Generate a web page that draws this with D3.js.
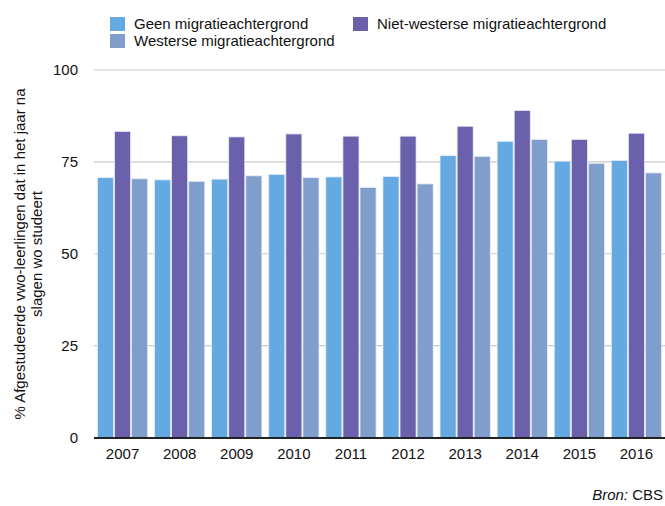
<!DOCTYPE html>
<html>
<head>
<meta charset="utf-8">
<script src="https://cdn.jsdelivr.net/npm/d3@7"></script>
<style>
  body { margin: 0; background: #fff; }
  text { font-family: "Helvetica Neue", Helvetica, Arial, "Liberation Sans", sans-serif; fill: #111; }
</style>
</head>
<body>
<div id="chart"></div>
<script>
var w = 665;
var h = 506;

var years = ["2007", "2008", "2009", "2010", "2011", "2012", "2013", "2014", "2015", "2016"];
var seriesNames = ["Geen migratieachtergrond", "Niet-westerse migratieachtergrond", "Westerse migratieachtergrond"];
var geen = [70.7, 70.1, 70.3, 71.6, 70.9, 71.0, 76.7, 80.6, 75.2, 75.4];
var nietWesters = [83.3, 82.1, 81.8, 82.6, 82.0, 82.0, 84.7, 89.0, 81.1, 82.8];
var westers = [70.4, 69.7, 71.2, 70.7, 68.0, 69.0, 76.5, 81.1, 74.6, 72.0];
var yTicks = [0, 25, 50, 75, 100];
var colors = ["#65a9e3", "#6a60ab", "#7f9ecb"];

var values = [geen, nietWesters, westers];

var svg = d3.select("#chart")
    .append("svg")
    .attr("width", w)
    .attr("height", h);

var x0 = d3.scaleBand()
    .domain(years)
    .range([94, 665])
    .paddingInner(0.12)
    .paddingOuter(0.06);

var x1 = d3.scaleBand()
    .domain(d3.range(3))
    .range([0, x0.bandwidth()])
    .paddingInner(0.06);

var y = d3.scaleLinear()
    .domain([0, 100])
    .range([437.5, 70]);

// gridlines
svg.append("g")
    .selectAll("line")
    .data(yTicks.filter(function(d) { return d > 0; }))
    .enter()
    .append("line")
    .attr("x1", 94)
    .attr("x2", 665)
    .attr("y1", function(d) { return y(d); })
    .attr("y2", function(d) { return y(d); })
    .attr("stroke", "#c8c8c8")
    .attr("stroke-width", 1.2);

// y tick labels
svg.append("g")
    .selectAll("text")
    .data(yTicks)
    .enter()
    .append("text")
    .attr("x", 78)
    .attr("y", function(d) { return y(d); })
    .attr("dy", "0.35em")
    .attr("text-anchor", "end")
    .style("font-size", "15px")
    .text(function(d) { return d; });

// bars
var groups = svg.append("g")
    .selectAll("g")
    .data(years)
    .enter()
    .append("g")
    .attr("transform", function(d) { return "translate(" + x0(d) + ",0)"; });

groups.selectAll("rect")
    .data(function(d, i) {
        return values.map(function(s, k) { return { k: k, v: s[i] }; });
    })
    .enter()
    .append("rect")
    .attr("x", function(d) { return x1(d.k); })
    .attr("y", function(d) { return y(d.v); })
    .attr("width", x1.bandwidth())
    .attr("height", function(d) { return y(0) - y(d.v); })
    .attr("fill", function(d) { return colors[d.k]; })
    .attr("stroke", "#e4ecf5")
    .attr("stroke-width", 0.8);

// baseline
svg.append("line")
    .attr("x1", 94)
    .attr("x2", 665)
    .attr("y1", y(0) + 0.5)
    .attr("y2", y(0) + 0.5)
    .attr("stroke", "#222")
    .attr("stroke-width", 2);

// x labels
svg.append("g")
    .selectAll("text")
    .data(years)
    .enter()
    .append("text")
    .attr("x", function(d) { return x0(d) + x0.bandwidth() / 2; })
    .attr("y", 459)
    .attr("text-anchor", "middle")
    .style("font-size", "15px")
    .text(function(d) { return d; });

// y axis title
var yTitle = svg.append("text")
    .attr("transform", "translate(0,254) rotate(-90)")
    .attr("text-anchor", "middle")
    .style("font-size", "15px");
yTitle.append("tspan").attr("x", 0).attr("y", 25)
    .text("% Afgestudeerde vwo-leerlingen dat in het jaar na");
yTitle.append("tspan").attr("x", 0).attr("y", 42)
    .text("slagen wo studeert");

// legend
var legendPos = [[110, 17], [353, 17], [110, 34]];
var legend = svg.append("g")
    .selectAll("g")
    .data(seriesNames)
    .enter()
    .append("g")
    .attr("transform", function(d, i) { return "translate(" + legendPos[i][0] + "," + legendPos[i][1] + ")"; });

legend.append("rect")
    .attr("width", 15)
    .attr("height", 14)
    .attr("fill", function(d, i) { return colors[i]; });

legend.append("text")
    .attr("x", 24)
    .attr("y", 12)
    .style("font-size", "15px")
    .text(function(d) { return d; });

// source
var src = svg.append("text")
    .attr("x", 663)
    .attr("y", 500)
    .attr("text-anchor", "end")
    .style("font-size", "15px");
src.append("tspan").style("font-style", "italic").text("Bron:");
src.append("tspan").text(" CBS");
</script>
</body>
</html>
